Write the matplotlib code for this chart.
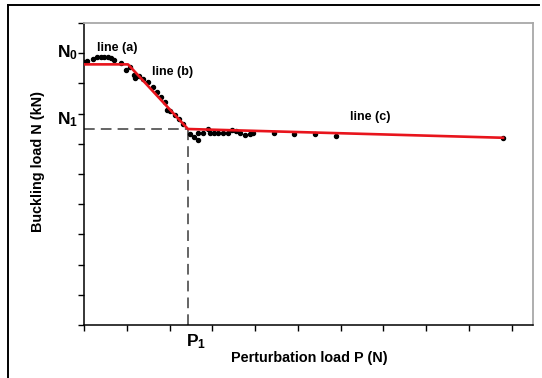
import matplotlib
matplotlib.use("Agg")
import matplotlib.pyplot as plt
from matplotlib.lines import Line2D

plt.rcParams['font.family'] = ['Liberation Sans', 'DejaVu Sans']
plt.rcParams['mathtext.fontset'] = 'custom'
plt.rcParams['mathtext.rm'] = 'Liberation Sans'
plt.rcParams['mathtext.bf'] = 'Liberation Sans:bold'

# measured data points (perturbation load, buckling load) in arbitrary units
px = [0.0, 0.08, 0.20, 0.30, 0.39, 0.47, 0.55, 0.62, 0.71, 0.87, 0.98, 1.08,
      1.18, 1.19, 1.29, 1.39, 1.50, 1.61, 1.70, 1.79, 1.89, 1.95, 2.01, 2.13,
      2.23, 2.32, 2.48, 2.57, 2.67, 2.67, 2.78, 2.91, 2.95, 3.05, 3.14, 3.24,
      3.36, 3.46, 3.56, 3.65, 3.77, 3.88, 3.95, 4.44, 4.90, 5.40, 5.89, 9.81]
py = [8.70, 8.75, 8.81, 8.86, 8.88, 8.87, 8.86, 8.83, 8.77, 8.66, 8.46, 8.54,
      8.28, 8.17, 8.25, 8.14, 8.04, 7.89, 7.73, 7.56, 7.39, 7.12, 7.10, 6.95,
      6.82, 6.66, 6.31, 6.22, 6.13, 6.37, 6.37, 6.48, 6.35, 6.35, 6.37, 6.37,
      6.37, 6.46, 6.41, 6.35, 6.29, 6.32, 6.35, 6.35, 6.31, 6.32, 6.26, 6.18]

# fitted piecewise line (a), (b), (c)
fit_x = [0.0, 1.03, 2.43, 9.80]
fit_y = [8.63, 8.63, 6.49, 6.20]

P1 = 2.43
N1 = 6.49

x_ticks = list(range(0, 11))
y_ticks = list(range(0, 11))

fig = plt.figure(figsize=(5.42, 3.78), dpi=100)
ax = fig.add_axes([84/542, 53/378, (533-84)/542, (325-23)/378])

ax.plot(px, py, 'o', color='black', markersize=2.9, zorder=3)
ax.plot(fit_x, fit_y, '-', color='#e8141c', linewidth=1.9, zorder=4)

ax.plot([0, P1], [N1, N1], color='#3a3a3a', linewidth=1.1, dashes=(7, 4), zorder=2)
ax.plot([P1, P1], [0, N1], color='#3a3a3a', linewidth=1.1, dashes=(7, 4), zorder=2)

ax.set_xlim(0, 10.5)
ax.set_ylim(0, 10)
ax.set_xticks(x_ticks)
ax.set_yticks(y_ticks)
ax.set_xticklabels([])
ax.set_yticklabels([])
ax.tick_params(direction='out', length=4, width=1.0, color='black')

for s in ['left', 'bottom']:
    ax.spines[s].set_color('black')
    ax.spines[s].set_linewidth(1.1)
for s in ['top', 'right']:
    ax.spines[s].set_color('#a8a8a8')
    ax.spines[s].set_linewidth(1.3)

bold = dict(fontweight='bold', color='black')
ax.text(0.30, 9.18, 'line (a)', fontsize=9, ha='left', va='center', **bold)
ax.text(1.60, 8.38, 'line (b)', fontsize=9, ha='left', va='center', **bold)
ax.text(6.22, 6.88, 'line (c)', fontsize=9, ha='left', va='center', **bold)

fig.text(78/542, 1 - 57/378, r'$\mathbf{N_0}$', fontsize=12.5, ha='right', va='baseline', color='black')
fig.text(78/542, 1 - 124/378, r'$\mathbf{N_1}$', fontsize=12.5, ha='right', va='baseline', color='black')
fig.text(186/542, 1 - 346/378, r'$\mathbf{P_1}$', fontsize=12.5, ha='left', va='baseline', color='black')

fig.text(309/542, 1 - 358/378, 'Perturbation load P (N)', fontsize=10.4, ha='center', va='center', **bold)
fig.text(38/542, 1 - 162/378, 'Buckling load N (kN)', fontsize=10.4, ha='center', va='center',
         rotation=90, **bold)

# outer frame (top and left edges)
fig.add_artist(Line2D([8/542, 539/542], [1 - 5/378, 1 - 5/378], color='black', linewidth=1.4,
                      transform=fig.transFigure))
fig.add_artist(Line2D([8/542, 8/542], [1 - 5/378, 0], color='black', linewidth=1.4,
                      transform=fig.transFigure))

fig.savefig('out.png', dpi=100)
